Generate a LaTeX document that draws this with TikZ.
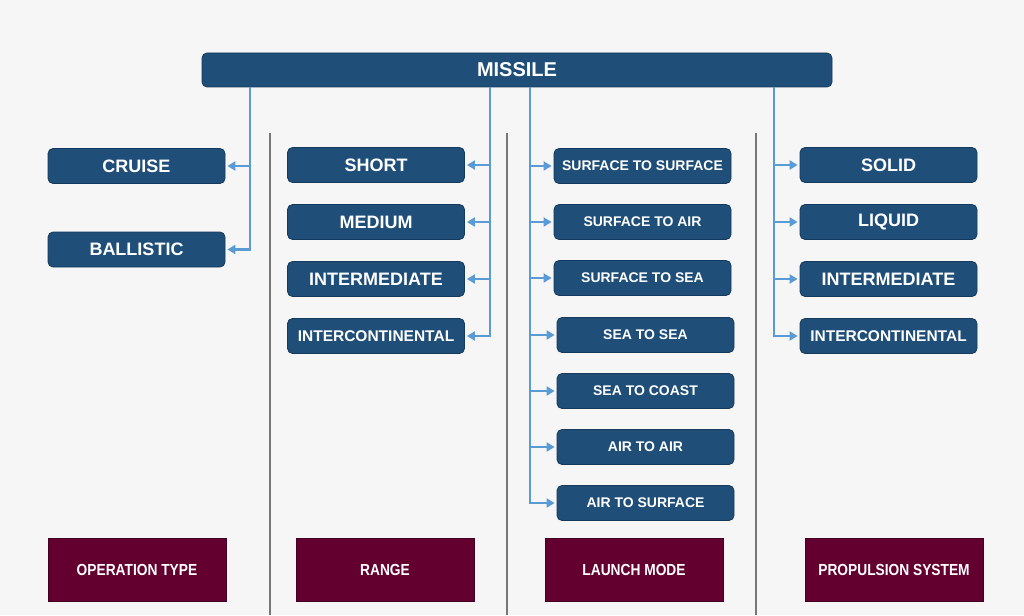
\documentclass[tikz,border=0pt]{standalone}
\usepackage{fontspec}
\setsansfont{Liberation Sans}
\newfontfamily\narrowf[FakeStretch=0.86]{Liberation Sans}
\usepackage{xcolor}
\usepackage{tikz}
\usetikzlibrary{arrows.meta,positioning}
\definecolor{navy}{HTML}{1F4E79}
\definecolor{navyd}{HTML}{163A5C}
\definecolor{linkc}{HTML}{5B9BD5}
\definecolor{wine}{HTML}{64002F}
\definecolor{sepc}{HTML}{777777}
\definecolor{softbg}{HTML}{F6F6F6}
\tikzset{
  ar/.style={-{Triangle[length=8pt,width=9pt]},line width=2.8pt,linkc,shorten >=2pt},
  box/.style={draw=navyd,line width=0.8pt,rounded corners=5pt,fill=navy,text=white,font=\sffamily\bfseries\fontsize{18}{20}\selectfont,minimum width=177pt,minimum height=35pt,inner sep=0pt},
  sbox/.style={box,font=\sffamily\bfseries\fontsize{14}{16}\selectfont},
  tag/.style={draw=wine!70!black,line width=0.8pt,fill=wine,text=white,font=\narrowf\bfseries\fontsize{16}{18}\selectfont,minimum width=178pt,minimum height=63pt,inner sep=0pt},
  sep/.style={line width=2.8pt,sepc}
}
\begin{document}
\begin{tikzpicture}[x=1pt,y=-1pt]
\fill[softbg] (0,0) rectangle (1024,615);
\useasboundingbox (0,0) rectangle (1024,615);
\draw[sep] (270,133) -- (270,615);
\draw[sep] (507,133) -- (507,615);
\draw[sep] (756,133) -- (756,615);
\node[box,minimum width=630pt,minimum height=34pt,font=\sffamily\bfseries\fontsize{20}{22}\selectfont] (missile) at (517,70) {MISSILE};
\node[box] (cruise) at (136.5,166) {CRUISE};
\node[box] (ballistic) at (136.5,249.5) {BALLISTIC};
\node[box] (short) at (376,165) {SHORT};
\node[box] (medium) at (376,222) {MEDIUM};
\node[box] (rinter) at (376,279) {INTERMEDIATE};
\node[box,font=\sffamily\bfseries\fontsize{15.5}{17}\selectfont] (rcont) at (376,336) {INTERCONTINENTAL};
\node[sbox] (ss) at (642.5,166) {SURFACE TO SURFACE};
\node[sbox] (sa) at (642.5,222) {SURFACE TO AIR};
\node[sbox] (ssea) at (642.5,278) {SURFACE TO SEA};
\node[sbox] (seasea) at (645.5,335) {SEA TO SEA};
\node[sbox] (coast) at (645.5,391) {SEA TO COAST};
\node[sbox] (aa) at (645.5,447) {AIR TO AIR};
\node[sbox] (as) at (645.5,503) {AIR TO SURFACE};
\node[box] (solid) at (888.5,165) {SOLID};
\node[box] (liquid) at (888.5,222) {LIQUID};
\node[box] (pinter) at (888.5,279) {INTERMEDIATE};
\node[box,font=\sffamily\bfseries\fontsize{15.5}{17}\selectfont] (pcont) at (888.5,336) {INTERCONTINENTAL};
\node[tag] (optag) at (137,569.5) {OPERATION TYPE};
\node[tag] (rngtag) at (385,569.5) {RANGE};
\node[tag] (lmtag) at (634,569.5) {LAUNCH MODE};
\node[tag] (pstag) at (894,569.5) {PROPULSION SYSTEM};
\coordinate (opx) at (250,0);
\coordinate (rgx) at (490,0);
\coordinate (lmx) at (530,0);
\coordinate (psx) at (774,0);
\draw[ar] (missile.south -| opx) |- (ballistic.east);
\draw[ar] (cruise.east -| opx) -- (cruise.east);
\draw[ar] (missile.south -| rgx) |- (rcont.east);
\foreach \n in {short,medium,rinter}
  \draw[ar] (\n.east -| rgx) -- (\n.east);
\draw[ar] (missile.south -| lmx) |- (as.west);
\foreach \n in {ss,sa,ssea,seasea,coast,aa}
  \draw[ar] (\n.west -| lmx) -- (\n.west);
\draw[ar] (missile.south -| psx) |- (pcont.west);
\foreach \n in {solid,liquid,pinter}
  \draw[ar] (\n.west -| psx) -- (\n.west);
\end{tikzpicture}
\end{document}
